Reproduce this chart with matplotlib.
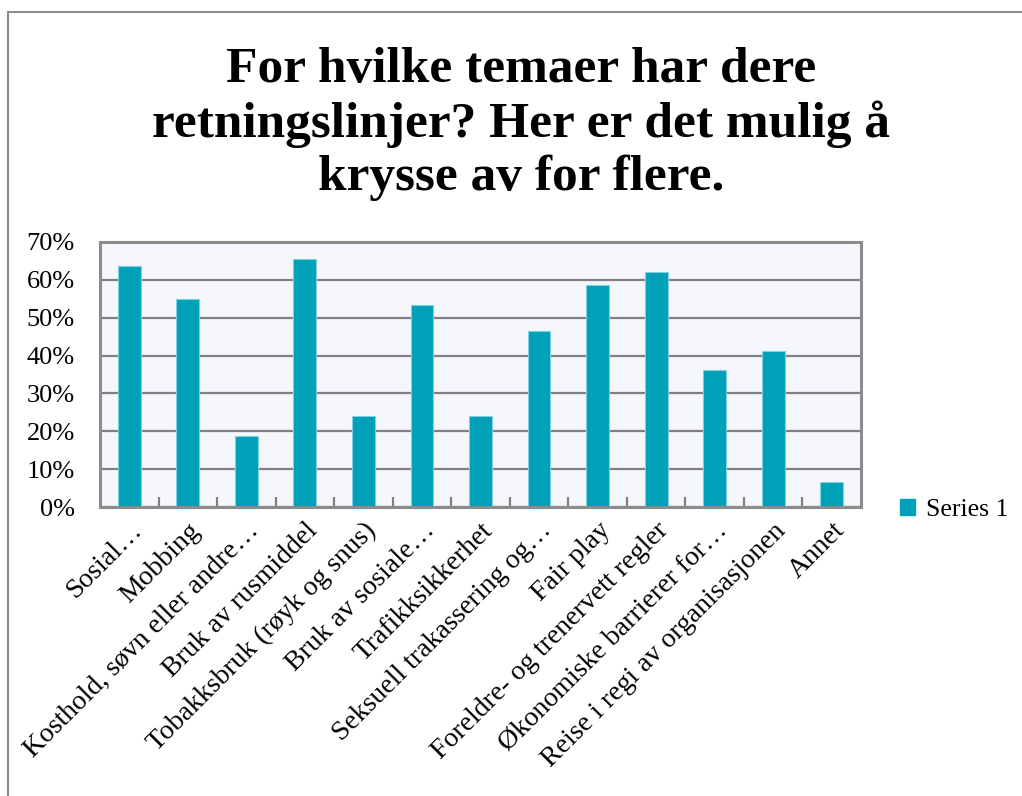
import matplotlib
matplotlib.use("Agg")
import matplotlib.pyplot as plt
from matplotlib.patches import Patch
from matplotlib.lines import Line2D
from matplotlib.ticker import FuncFormatter, FixedLocator

categories = [
    "Sosial…",
    "Mobbing",
    "Kosthold, søvn eller andre…",
    "Bruk av rusmiddel",
    "Tobakksbruk (røyk og snus)",
    "Bruk av sosiale…",
    "Trafikksikkerhet",
    "Seksuell trakassering og…",
    "Fair play",
    "Foreldre- og trenervett regler",
    "Økonomiske barrierer for…",
    "Reise i regi av organisasjonen",
    "Annet",
]
values = [0.637, 0.550, 0.188, 0.654, 0.240, 0.533, 0.240, 0.464, 0.586, 0.620, 0.361, 0.413, 0.066]
series_name = "Series 1"
title = "For hvilke temaer har dere\nretningslinjer? Her er det mulig å\nkrysse av for flere."
yticks = [0, 0.1, 0.2, 0.3, 0.4, 0.5, 0.6, 0.7]

W, H = 1022, 796
fig = plt.figure(figsize=(W / 100, H / 100), dpi=100)
fig.patch.set_facecolor("white")
font = "Liberation Serif"

ax = fig.add_axes([100 / W, 1 - 507 / H, (861 - 100) / W, (507 - 242) / H])
ax.set_facecolor("#F5F7FC")

x = list(range(len(categories)))
bar_color = "#00A0B8"
ax.bar(x, values, width=0.39, color=bar_color, edgecolor="#7FD3E0", linewidth=0.8,
       zorder=3, label=series_name)

ax.set_xlim(-0.5, len(categories) - 0.5)
ax.set_ylim(0, 0.7)
ax.set_yticks(yticks)
ax.yaxis.set_major_formatter(FuncFormatter(lambda v, p: f"{int(round(v * 100))}%"))
ax.grid(axis="y", color="#808080", linewidth=1.6, zorder=1)
ax.tick_params(axis="y", length=0, pad=18, labelsize=19)
for lab in ax.get_yticklabels():
    lab.set_fontfamily(font)

ax.set_xticks(x)
ax.set_xticklabels(categories, rotation=45, ha="right", va="top",
                   rotation_mode="anchor", fontsize=20, fontfamily=font)
ax.tick_params(axis="x", which="major", length=0, pad=8)
ax.xaxis.set_minor_locator(FixedLocator([i + 0.5 for i in range(len(categories) - 1)]))
ax.tick_params(axis="x", which="minor", direction="in", length=7, width=1.6, color="#808080")

for s in ax.spines.values():
    s.set_color("#8C8C8C")
    s.set_linewidth(2.2)
    s.set_zorder(4)

fig.text(521 / W, 1 - 124 / H, title, ha="center", va="center", fontsize=37,
         fontweight="bold", fontfamily=font, linespacing=1.2)

handle = Patch(facecolor=bar_color, edgecolor=bar_color)
leg = fig.legend([handle], [series_name], loc="center left",
                 bbox_to_anchor=(900 / W, 1 - 510 / H), frameon=False,
                 prop={"family": font, "size": 18.5}, handlelength=0.6,
                 handleheight=0.6, handletextpad=0.4, borderpad=0, borderaxespad=0)

fig.add_artist(Line2D([8 / W, 8 / W], [0, 1 - 12 / H], transform=fig.transFigure,
                      color="#8C8C8C", linewidth=1.5))
fig.add_artist(Line2D([8 / W, 1], [1 - 12 / H, 1 - 12 / H], transform=fig.transFigure,
                      color="#8C8C8C", linewidth=1.5))

fig.savefig("out.png", dpi=100, facecolor="white")
